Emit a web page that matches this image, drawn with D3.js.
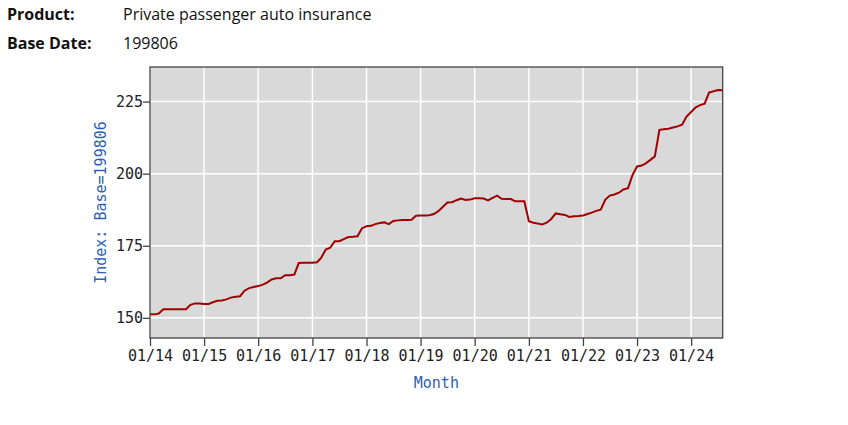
<!DOCTYPE html>
<html>
<head>
<meta charset="utf-8">
<script src="https://cdn.jsdelivr.net/npm/d3@7"></script>
<style>
  html, body { margin: 0; padding: 0; background: #ffffff; }
  svg { display: block; }
</style>
</head>
<body>
<svg id="chart" width="848" height="425"></svg>
<script>
// ---- data ----
const headerLabels = ["Product:", "Base Date:"];
const headerValues = ["Private passenger auto insurance", "199806"];
const startMonth = "2014-01";
const endMonth = "2024-08";
const indexValues = [
  151.2, 151.2, 151.5, 153.0, 153.0, 153.0, 153.0, 153.0, 153.0, 154.5,
  155.0, 155.0, 154.8, 154.8, 155.4, 155.9, 156.0, 156.4, 157.0, 157.3,
  157.5, 159.4, 160.3, 160.7, 161.0, 161.5, 162.2, 163.3, 163.7, 163.7,
  164.8, 164.8, 165.0, 169.0, 169.1, 169.1, 169.1, 169.3, 170.8, 173.7,
  174.3, 176.6, 176.6, 177.3, 178.0, 178.1, 178.3, 181.0, 181.8, 181.9,
  182.5, 182.9, 183.1, 182.5, 183.6, 183.8, 183.9, 183.9, 184.0, 185.4,
  185.5, 185.5, 185.6, 186.0, 187.0, 188.5, 190.0, 190.1, 190.8, 191.4,
  190.9, 191.0, 191.5, 191.5, 191.4, 190.7, 191.6, 192.4, 191.3, 191.2,
  191.2, 190.4, 190.4, 190.4, 183.5, 183.0, 182.7, 182.4, 183.0, 184.3,
  186.2, 185.9, 185.7, 185.0, 185.2, 185.3, 185.5, 186.0, 186.5, 187.1,
  187.5, 191.0, 192.4, 192.8, 193.4, 194.5, 195.0, 199.5, 202.5, 202.8,
  203.6, 204.8, 206.0, 215.2, 215.4, 215.6, 216.0, 216.4, 217.0, 219.8,
  221.4, 223.0, 223.8, 224.3, 228.1, 228.6, 229.0, 228.9
];
const yTicks = [150, 175, 200, 225];
const yDomain = [143, 237];
const yTitle = "Index: Base=199806";
const xTitle = "Month";

// ---- layout ----
const svg = d3.select("#chart");
const pL = 150, pR = 722.7, pT = 67, pB = 338;

const parseMonth = d3.timeParse("%Y-%m");
const months = d3.timeMonth.range(parseMonth(startMonth), d3.timeMonth.offset(parseMonth(endMonth), 1));
const data = months.map((d, i) => ({ date: d, value: indexValues[i] }));

const x = d3.scaleTime().domain([parseMonth(startMonth), parseMonth(endMonth)]).range([pL, pR]);
const y = d3.scaleLinear().domain(yDomain).range([pB, pT]);

// header
const headerFont = "'Open Sans', 'Noto Sans', sans-serif";
const hdr = svg.append("g");
headerLabels.forEach((lab, i) => {
  hdr.append("text").attr("x", 7).attr("y", 19.5 + i * 29)
    .attr("font-family", headerFont).attr("font-weight", "bold")
    .attr("font-size", 16).attr("fill", "#111").text(lab);
  hdr.append("text").attr("x", 123).attr("y", 19.5 + i * 29)
    .attr("font-family", headerFont)
    .attr("font-size", 16).attr("fill", "#111").text(headerValues[i]);
});

// plot background
svg.append("rect").attr("x", pL).attr("y", pT)
  .attr("width", pR - pL).attr("height", pB - pT)
  .attr("fill", "#d9d9d9");

// gridlines
const xTickDates = d3.timeYear.range(parseMonth(startMonth), d3.timeMonth.offset(parseMonth(endMonth), 1));
svg.append("g").selectAll("line").data(xTickDates).join("line")
  .attr("x1", d => x(d)).attr("x2", d => x(d))
  .attr("y1", pT).attr("y2", pB)
  .attr("stroke", "#ffffff").attr("stroke-width", 1.5);
svg.append("g").selectAll("line").data(yTicks).join("line")
  .attr("x1", pL).attr("x2", pR)
  .attr("y1", d => y(d)).attr("y2", d => y(d))
  .attr("stroke", "#ffffff").attr("stroke-width", 1.5);

// line
const line = d3.line().x(d => x(d.date)).y(d => y(d.value));
svg.append("path").datum(data)
  .attr("d", line).attr("fill", "none")
  .attr("stroke", "#a00000").attr("stroke-width", 2)
  .attr("stroke-linejoin", "miter");

// frame
svg.append("rect").attr("x", pL).attr("y", pT)
  .attr("width", pR - pL).attr("height", pB - pT)
  .attr("fill", "none").attr("stroke", "#444").attr("stroke-width", 1.3);

// axes
const monoFont = "'DejaVu Sans Mono', monospace";
const xAxis = svg.append("g").attr("transform", `translate(0,${pB})`)
  .call(d3.axisBottom(x).tickValues(xTickDates).tickFormat(d3.timeFormat("%m/%y")).tickSizeInner(8).tickSizeOuter(0));
const yAxis = svg.append("g").attr("transform", `translate(${pL},0)`)
  .call(d3.axisLeft(y).tickValues(yTicks).tickSizeInner(7).tickSizeOuter(0).tickPadding(0));
[xAxis, yAxis].forEach(g => {
  g.select(".domain").remove();
  g.selectAll(".tick line").attr("stroke", "#444").attr("stroke-width", 1.3);
  g.selectAll(".tick text").attr("font-family", monoFont).attr("font-size", 15).attr("fill", "#222");
});
xAxis.selectAll(".tick text").attr("dy", "0.95em").attr("y", 9);

// titles
svg.append("text").attr("x", (pL + pR) / 2).attr("y", 388)
  .attr("text-anchor", "middle").attr("font-family", monoFont)
  .attr("font-size", 15).attr("fill", "#2f5fb3").text(xTitle);
svg.append("text")
  .attr("transform", `translate(106,${(pT + pB) / 2}) rotate(-90)`)
  .attr("text-anchor", "middle").attr("font-family", monoFont)
  .attr("font-size", 15).attr("fill", "#2f5fb3").text(yTitle);
</script>
</body>
</html>
